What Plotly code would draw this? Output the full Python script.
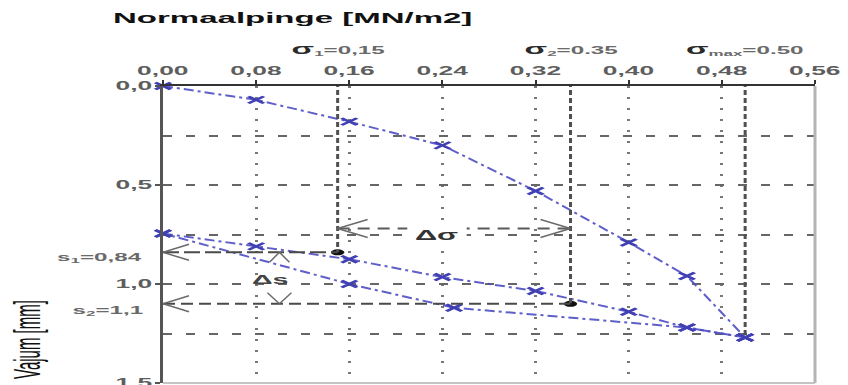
import plotly.graph_objects as go

# ---- axis ticks ----
stress_ticks = [0.00, 0.08, 0.16, 0.24, 0.32, 0.40, 0.48, 0.56]
stress_tick_text = ["0,00", "0,08", "0,16", "0,24", "0,32", "0,40", "0,48", "0,56"]
settle_ticks = [0.0, 0.5, 1.0, 1.5]
settle_tick_text = ["0,0", "0,5", "1,0", "1,5"]

# ---- plate load test: first loading, unloading, reloading ----
load1_stress = [0.00, 0.08, 0.16, 0.24, 0.32, 0.40, 0.45, 0.50]
load1_settle = [0.00, 0.07, 0.18, 0.30, 0.53, 0.79, 0.96, 1.27]

unload_stress = [0.50, 0.45, 0.25, 0.16, 0.00]
unload_settle = [1.27, 1.22, 1.12, 1.00, 0.745]

reload_stress = [0.00, 0.08, 0.16, 0.24, 0.32, 0.40, 0.45, 0.50]
reload_settle = [0.745, 0.81, 0.875, 0.965, 1.035, 1.14, 1.22, 1.27]

# ---- evaluation points ----
sigma_1, sigma_2, sigma_max = 0.15, 0.35, 0.50
s_1, s_2 = 0.84, 1.1
sigma_labels = ["σ<sub>1</sub>=0,15", "σ<sub>2</sub>=0.35", "σ<sub>max</sub>=0.50"]
s_labels = ["s<sub>1</sub>=0,84", "s<sub>2</sub>=1,1"]

W, H = 848, 385
M_L, M_R, M_T, M_B = 163, 33, 86, 2
X_RANGE = [0, 0.56]
Y_RANGE = [1.5, 0]
PX_X = (X_RANGE[1] - X_RANGE[0]) / (W - M_L - M_R)
PX_Y = (Y_RANGE[0] - Y_RANGE[1]) / (H - M_T - M_B)

FONT = "Liberation Sans"
CURVE = "rgba(78,78,196,0.9)"
CROSS = "#4040b4"
GUIDE = "#4a4a4a"
TICK_GREY = "#5e5e5e"

fig = go.Figure()

curve_style = dict(
    mode="lines+markers",
    line=dict(color=CURVE, width=2, dash="10px,4px,3px,4px"),
    marker=dict(symbol="x-thin", size=7, line=dict(color=CROSS, width=2)),
    cliponaxis=False,
    showlegend=False,
    hoverinfo="skip",
)
fig.add_trace(go.Scatter(x=load1_stress, y=load1_settle, **curve_style))
fig.add_trace(go.Scatter(x=unload_stress, y=unload_settle, **curve_style))
fig.add_trace(go.Scatter(x=reload_stress, y=reload_settle, **curve_style))

shapes = []

# vertical stress guides, poking slightly above the top axis
for sx, sy in [(sigma_1, s_1), (sigma_2, s_2), (sigma_max, load1_settle[-1])]:
    shapes.append(dict(type="line", xref="x", yref="y", x0=sx, x1=sx, y0=-4 * PX_Y, y1=sy,
                       line=dict(color="#505050", width=3, dash="5px,3px")))

# settlement guides from the axis to the evaluation points
shapes.append(dict(type="line", xref="x", yref="y", x0=0, x1=sigma_1, y0=s_1, y1=s_1,
                   line=dict(color=GUIDE, width=2, dash="16px,5px")))
shapes.append(dict(type="line", xref="x", yref="y", x0=0, x1=sigma_2, y0=s_2, y1=s_2,
                   line=dict(color=GUIDE, width=2, dash="12px,6px")))

# delta sigma dimension line
d_sigma_y = 0.72
shapes.append(dict(type="line", xref="x", yref="y", x0=sigma_1, x1=sigma_2,
                   y0=d_sigma_y, y1=d_sigma_y,
                   line=dict(color="#5a5a5a", width=2, dash="12px,8px")))


def open_head(x, y, direction, length, half, color="#6a6a6a"):
    """Two short strokes forming an open arrowhead whose tip sits at (x, y)."""
    if direction == "left":
        ends = [(x + length * PX_X, y - half * PX_Y), (x + length * PX_X, y + half * PX_Y)]
    elif direction == "right":
        ends = [(x - length * PX_X, y - half * PX_Y), (x - length * PX_X, y + half * PX_Y)]
    elif direction == "up":
        ends = [(x - half * PX_X, y + length * PX_Y), (x + half * PX_X, y + length * PX_Y)]
    else:
        ends = [(x - half * PX_X, y - length * PX_Y), (x + half * PX_X, y - length * PX_Y)]
    return [dict(type="line", xref="x", yref="y", x0=x, y0=y, x1=ex, y1=ey,
                 line=dict(color=color, width=1.5)) for ex, ey in ends]


shapes += open_head(0, s_1, "left", 26, 8)
shapes += open_head(0, s_2, "left", 26, 8)
shapes += open_head(sigma_1, d_sigma_y, "left", 30, 9)
shapes += open_head(sigma_2, d_sigma_y, "right", 30, 9)
ds_x = 0.10
shapes += open_head(ds_x, s_1, "up", 10, 10)
shapes += open_head(ds_x, s_2, "down", 11, 12)

# right and bottom frame
shapes.append(dict(type="line", xref="paper", yref="paper", x0=1, x1=1, y0=0, y1=1,
                   line=dict(color="#b4b4b4", width=3)))
shapes.append(dict(type="line", xref="paper", yref="paper", x0=0, x1=1, y0=0, y1=0,
                   line=dict(color="#c4c4c4", width=2)))

# evaluation points
fig.add_trace(go.Scatter(x=[sigma_1, sigma_2], y=[s_1, s_2], mode="markers",
                         marker=dict(color="#111111", size=6), cliponaxis=False,
                         showlegend=False, hoverinfo="skip"))

annotations = [
    dict(text="<b>Normaalpinge [MN/m2]</b>", xref="paper", yref="paper",
         x=(292 - M_L) / (W - M_L - M_R), y=1, yshift=69, showarrow=False,
         xanchor="center", yanchor="middle", font=dict(family=FONT, size=15, color="#111")),
    dict(text="Vajum [mm]", xref="paper", yref="paper",
         x=(26 - M_L) / (W - M_L - M_R), y=(H - 340 - M_B) / (H - M_T - M_B),
         showarrow=False, textangle=-90, xanchor="center", yanchor="middle",
         font=dict(family=FONT, size=15, color="#111")),
    dict(text="<b>Δσ</b>", xref="x", yref="y", x=(sigma_1 + sigma_2) / 2, xshift=-17,
         y=d_sigma_y, yshift=-6, showarrow=False, bgcolor="white", borderpad=3,
         font=dict(family=FONT, size=14, color="#333")),
    dict(text="<b>Δs</b>", xref="x", yref="y", x=ds_x, xshift=-9, y=(s_1 + s_2) / 2,
         yshift=-1, showarrow=False, font=dict(family=FONT, size=13, color="#444")),
]
for sx, lab in zip([sigma_1, sigma_2, sigma_max], sigma_labels):
    head, tail = lab.split("<sub>")
    annotations.append(dict(
        text="<span style='font-size:15px;color:#2a2a2a'><b>" + head
             + "</b></span><b><sub>" + tail + "</b>",
        xref="x", yref="paper", x=sx, y=1, yshift=37, showarrow=False,
        xanchor="center", yanchor="middle", font=dict(family=FONT, size=11, color="#6a6a6a")))
for sy, lab, dy in zip([s_1, s_2], s_labels, [-6, -7]):
    annotations.append(dict(
        text="<b>" + lab + "</b>", xref="paper", yref="y", x=0, xshift=-18, y=sy, yshift=dy,
        showarrow=False, xanchor="right", align="right", yanchor="middle",
        font=dict(family=FONT, size=11, color="#6a6a6a")))

fig.update_layout(
    width=W, height=H,
    margin=dict(l=M_L, r=M_R, t=M_T, b=M_B, autoexpand=False),
    paper_bgcolor="white", plot_bgcolor="white",
    shapes=shapes, annotations=annotations,
    xaxis=dict(
        side="top", range=X_RANGE, tickmode="array", tickvals=stress_ticks,
        ticktext=stress_tick_text, showline=True, linecolor="#333", linewidth=2,
        ticks="outside", ticklen=4, tickwidth=2, tickcolor="#333",
        showgrid=True, gridcolor="#777", gridwidth=3, griddash="2px,9px",
        zeroline=False, ticklabeloverflow="allow", automargin=False,
        tickfont=dict(family=FONT, size=12, color=TICK_GREY, weight="bold"),
    ),
    yaxis=dict(
        range=Y_RANGE, tickmode="array", tickvals=settle_ticks, ticktext=settle_tick_text,
        showline=True, linecolor="#555", linewidth=3,
        ticks="outside", ticklen=5, tickwidth=2, tickcolor="#555",
        showgrid=True, gridcolor="#666", gridwidth=2, griddash="9px,14px",
        zeroline=False, ticklabeloverflow="allow", automargin=False,
        minor=dict(dtick=0.25, tick0=0, showgrid=True, gridcolor="#666", gridwidth=2,
                   griddash="9px,14px", ticks=""),
        tickfont=dict(family=FONT, size=12, color=TICK_GREY, weight="bold"),
    ),
)

# widen glyphs and markers horizontally after rendering
stretch_js = """
var gd = document.getElementById('{plot_id}');
var S = 2.2;
function widen(el, ox, oy, sx, sy) {
  var tr = el.getAttribute('transform') || '';
  el.setAttribute('transform', tr + ' translate(' + ox + ',' + oy + ') scale(' + sx + ',' + sy + ') translate(' + (-ox) + ',' + (-oy) + ')');
}
function angleOf(el) {
  var a = 0;
  for (var n = el; n && n.getAttribute; n = n.parentNode) {
    var tr = n.getAttribute('transform') || '';
    var m = tr.match(/rotate\\(\\s*(-?[0-9.eE+-]+)/);
    if (m) { a += parseFloat(m[1]); }
  }
  return a;
}
gd.querySelectorAll('.main-svg text').forEach(function (t) {
  var bb = t.getBBox();
  if (!bb.width) return;
  var anchor = t.getAttribute('text-anchor') || 'middle';
  var ox = anchor === 'end' ? bb.x + bb.width : (anchor === 'start' ? bb.x : bb.x + bb.width / 2);
  var oy = bb.y + bb.height / 2;
  var a = Math.abs(angleOf(t)) % 180;
  if (a > 45 && a < 135) { widen(t, bb.x + bb.width / 2, oy, 1, S * 1.1); return; }
  widen(t, ox, oy, S, 1);
  var bg = t.parentNode.querySelector('rect.bg');
  if (bg) { widen(bg, bb.x + bb.width / 2, oy, S, 1); }
});
gd.querySelectorAll('.scatterlayer path.point').forEach(function (p) {
  var tr = p.getAttribute('transform') || '';
  p.setAttribute('transform', tr + ' scale(' + S + ',1)');
});
"""

fig.write_html("out.html", config={"displayModeBar": False}, post_script=stretch_js)
